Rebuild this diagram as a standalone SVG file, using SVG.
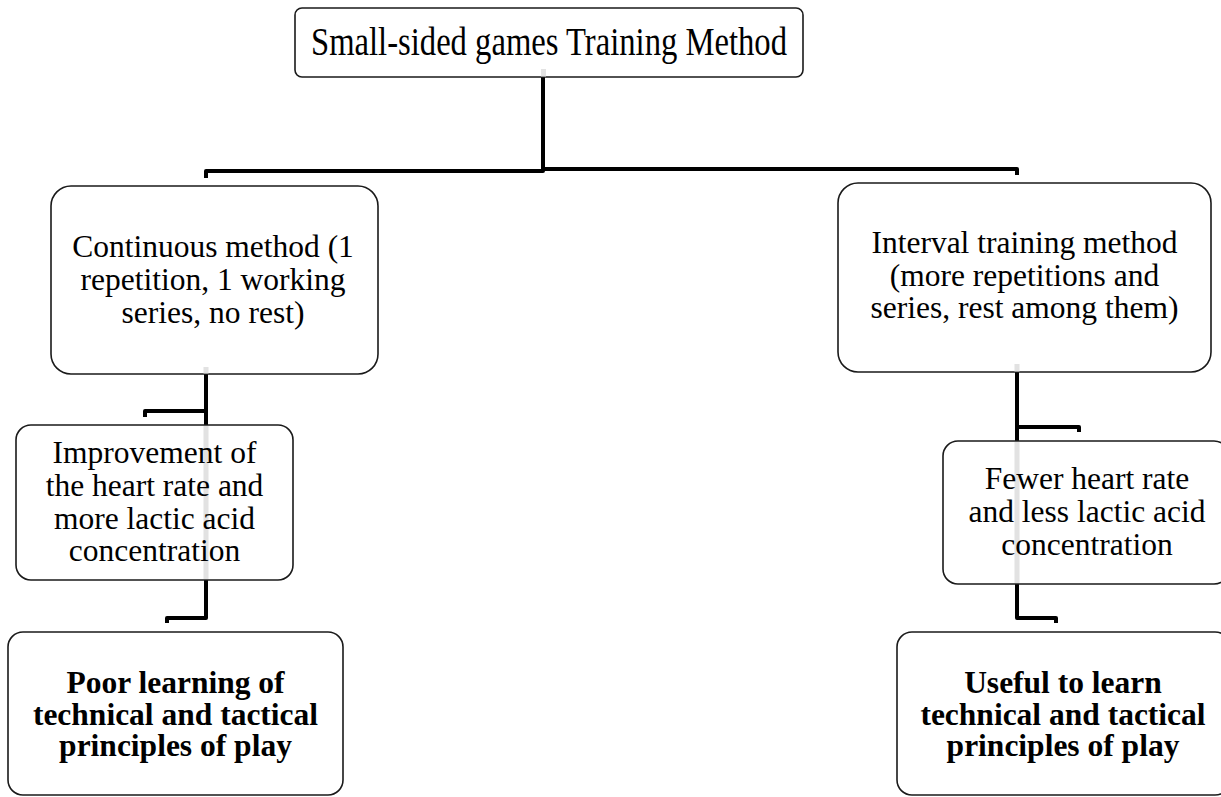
<svg xmlns="http://www.w3.org/2000/svg" width="1221" height="797" viewBox="0 0 1221 797">
  <style>
    .box { fill: #ffffff; stroke: #1a1a1a; stroke-width: 1.6; }
    .txt { font-family: "Liberation Serif", "Times New Roman", serif; font-size: 31.5px; fill: #000; text-anchor: middle; }
    .bold { font-weight: bold; }
    .title { font-size: 40px; }
    .conn { fill: none; stroke: #000; stroke-width: 4; stroke-linejoin: round; stroke-linecap: butt; }
    .ghost { fill: #e2e2e2; }
  </style>
  <rect width="1221" height="797" fill="#ffffff"/>

  <!-- connectors -->
  <g id="connectors">
    <path class="conn" d="M543 77 V171 H206 V178"/>
    <path class="conn" d="M543 169 H1017 V175"/>
    <path class="conn" d="M206 374 V425"/>
    <path class="conn" d="M206 411 H145 V417"/>
    <path class="conn" d="M206 580 V618 H167 V623"/>
    <path class="conn" d="M1017 372 V441"/>
    <path class="conn" d="M1017 427 H1079 V432"/>
    <path class="conn" d="M1017 584 V618 H1056 V623"/>
  </g>

  <!-- top node -->
  <g id="node-root">
    <rect class="box" x="295" y="8" width="508" height="69" rx="7"/>
    <rect class="ghost" x="541" y="69" width="5" height="7.5"/>
    <text class="txt title" x="549" y="55" textLength="476" lengthAdjust="spacingAndGlyphs">Small-sided games Training Method</text>
  </g>

  <!-- left branch -->
  <g id="node-continuous">
    <rect class="box" x="51" y="186" width="327" height="188" rx="20"/>
    <rect class="ghost" x="203.5" y="367" width="5" height="6.5"/>
    <text class="txt" x="213" y="257">Continuous method (1</text>
    <text class="txt" x="213" y="290">repetition, 1 working</text>
    <text class="txt" x="213" y="323">series, no rest)</text>
  </g>

  <g id="node-improvement">
    <rect class="box" x="16" y="425" width="277" height="155" rx="15"/>
    <rect class="ghost" x="203.5" y="426" width="5" height="153"/>
    <text class="txt" x="154.5" y="463">Improvement of</text>
    <text class="txt" x="154.5" y="496">the heart rate and</text>
    <text class="txt" x="154.5" y="529">more lactic acid</text>
    <text class="txt" x="154.5" y="561">concentration</text>
  </g>

  <g id="node-poor">
    <rect class="box" x="8" y="632" width="335" height="163" rx="15"/>
    <text class="txt bold" x="175.5" y="693">Poor learning of</text>
    <text class="txt bold" x="175.5" y="725">technical and tactical</text>
    <text class="txt bold" x="175.5" y="756">principles of play</text>
  </g>

  <!-- right branch -->
  <g id="node-interval">
    <rect class="box" x="838" y="183" width="373" height="189" rx="20"/>
    <rect class="ghost" x="1014.5" y="364" width="5" height="7.5"/>
    <text class="txt" x="1024.5" y="253">Interval training method</text>
    <text class="txt" x="1024.5" y="286">(more repetitions and</text>
    <text class="txt" x="1024.5" y="318">series, rest among them)</text>
  </g>

  <g id="node-fewer">
    <rect class="box" x="943" y="441" width="286" height="143" rx="15"/>
    <rect class="ghost" x="1014.5" y="442" width="5" height="141"/>
    <text class="txt" x="1087" y="489">Fewer heart rate</text>
    <text class="txt" x="1087" y="522">and less lactic acid</text>
    <text class="txt" x="1087" y="555">concentration</text>
  </g>

  <g id="node-useful">
    <rect class="box" x="897" y="632" width="333" height="163" rx="15"/>
    <text class="txt bold" x="1063" y="693">Useful to learn</text>
    <text class="txt bold" x="1063" y="725">technical and tactical</text>
    <text class="txt bold" x="1063" y="756">principles of play</text>
  </g>
</svg>
